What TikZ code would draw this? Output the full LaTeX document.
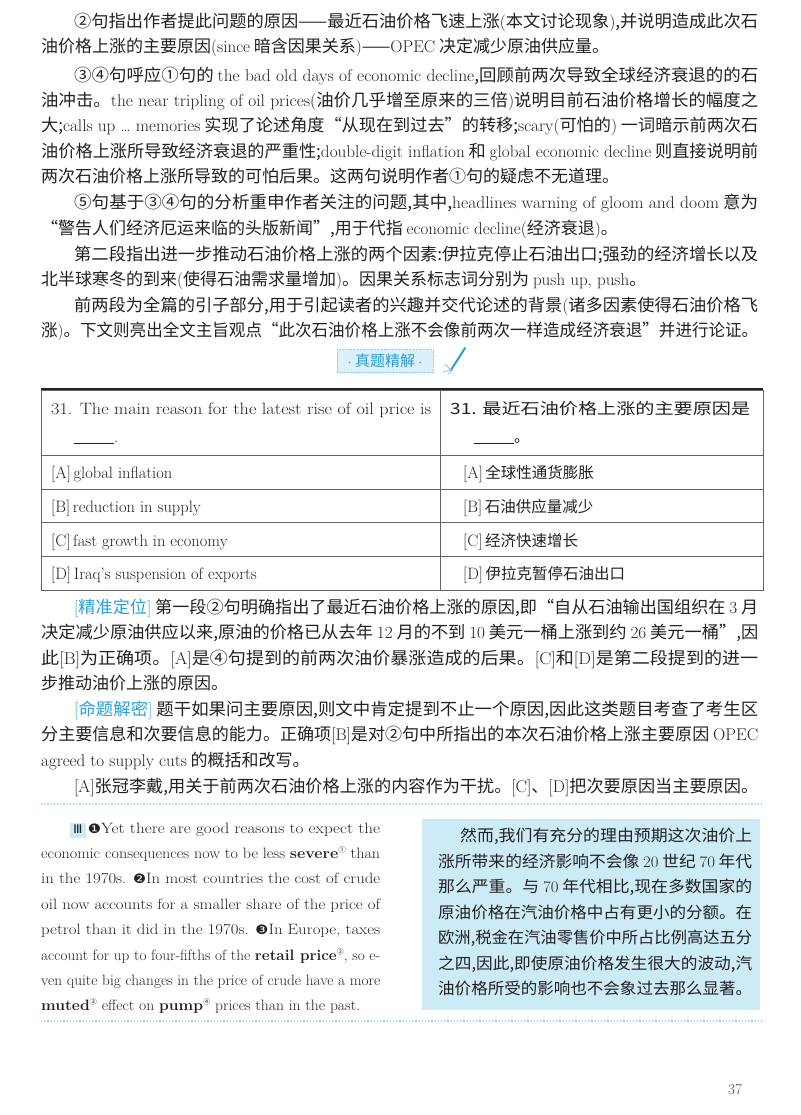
\documentclass[tikz,border=0pt]{standalone}
\usepackage{fontspec}
\usepackage{graphicx}
\newfontfamily\zh{Noto Sans CJK SC}
\newfontfamily\dv{DejaVu Sans}
\definecolor{ink}{HTML}{222222}
\definecolor{lblue}{HTML}{2A9FD8}
\definecolor{boxbg}{HTML}{CDEAF7}
\definecolor{dotc}{HTML}{8FD0EE}
\newcommand\e[1]{{\normalfont #1}}
\newcommand\fl[2]{\resizebox{#1}{\height}{\strut #2}}
\newcommand\sm[1]{\raisebox{0.9ex}{\zh\fontsize{7}{8}\selectfont #1}}
\newcommand\lab[1]{\textcolor{lblue}{\e{[}#1\e{]}}}
\begin{document}
\begin{tikzpicture}[x=1pt,y=-1pt,
  ln/.style={anchor=base west,inner sep=0pt,text=ink,font=\zh\fontsize{17}{20}\selectfont},
  en/.style={anchor=base west,inner sep=0pt,text=ink,font=\rmfamily\fontsize{15}{18}\selectfont},
  tb/.style={anchor=base west,inner sep=0pt,text=ink,font=\rmfamily\fontsize{16.5}{19}\selectfont},
  tz/.style={anchor=base west,inner sep=0pt,text=ink,font=\zh\fontsize{15.5}{18}\selectfont},
  bx/.style={anchor=base west,inner sep=0pt,text=ink,font=\zh\fontsize{16}{19}\selectfont}]
\useasboundingbox (0,0) rectangle (800,1115);
\fill[white] (0,0) rectangle (800,1115);
% paragraph block 1
\node[ln] (l1) at (74,28) {\fl{684pt}{②句指出作者提此问题的原因——最近石油价格飞速上涨\e{(}本文讨论现象\e{)},并说明造成此次石}};
\node[ln] (l2) at (41,53) {油价格上涨的主要原因\e{(since} 暗含因果关系\e{)}——\e{OPEC} 决定减少原油供应量。};
\node[ln] (l3) at (74,82) {\fl{684pt}{③④句呼应①句的 \e{the bad old days of economic decline},回顾前两次导致全球经济衰退的的石}};
\node[ln] (l4) at (41,107) {\fl{717pt}{油冲击。\e{the near tripling of oil prices(}油价几乎增至原来的三倍\e{)}说明目前石油价格增长的幅度之}};
\node[ln] (l5) at (41,132) {\fl{717pt}{大;\e{calls up \dots\ memories} 实现了论述角度“从现在到过去”的转移;\e{scary(}可怕的\e{)} 一词暗示前两次石}};
\node[ln] (l6) at (41,158) {\fl{717pt}{油价格上涨所导致经济衰退的严重性;\e{double-digit inflation} 和 \e{global economic decline} 则直接说明前}};
\node[ln] (l7) at (41,183) {两次石油价格上涨所导致的可怕后果。这两句说明作者①句的疑虑不无道理。};
\node[ln] (l8) at (74,209) {\fl{684pt}{⑤句基于③④句的分析重申作者关注的问题,其中,\e{headlines warning of gloom and doom} 意为}};
\node[ln] (l9) at (41,234) {“警告人们经济厄运来临的头版新闻”,用于代指 \e{economic decline(}经济衰退\e{)}。};
\node[ln] (l10) at (74,260) {\fl{684pt}{第二段指出进一步推动石油价格上涨的两个因素:伊拉克停止石油出口;强劲的经济增长以及}};
\node[ln] (l11) at (41,285) {北半球寒冬的到来\e{(}使得石油需求量增加\e{)}。因果关系标志词分别为 \e{push up, push}。};
\node[ln] (l12) at (74,311) {\fl{684pt}{前两段为全篇的引子部分,用于引起读者的兴趣并交代论述的背景\e{(}诸多因素使得石油价格飞}};
\node[ln] (l13) at (41,336) {\fl{717pt}{涨\e{)}。下文则亮出全文主旨观点“此次石油价格上涨不会像前两次一样造成经济衰退”并进行论证。}};
% badge
\node[draw=dotc,densely dotted,fill=boxbg!70,minimum width=96pt,minimum height=23pt,inner sep=0pt,
  text=lblue,font=\zh\fontsize{15}{18}\selectfont] (badge) at (385,361) {$\cdot$ 真题精解 $\cdot$};
\draw[lblue,line width=2pt,line cap=round] (451,370) -- (465,348);
\draw[lblue!60,line width=0.8pt] (445,364) -- (451,370) -- (443,372) (448,374) -- (452,371);
% table
\draw[ink!70,line width=0.8pt] (41,390) rectangle (763,590);
\draw[ink,line width=2pt] (41,389) -- (763,389);
\draw[ink!70,line width=0.8pt] (440,390) -- (440,590);
\foreach \yy in {455,489,522,556} \draw[ink!70,line width=0.6pt] (41,\yy) -- (763,\yy);
\node[tb] (q1) at (51,414) {\fl{380pt}{31. The main reason for the latest rise of oil price is}};
\node[tb] (q2) at (74,442) {\rule[-1pt]{40pt}{0.5pt}.};
\node[tz] (z1) at (450,414) {\fl{300pt}{31. 最近石油价格上涨的主要原因是}};
\node[tz] (z2) at (474,442) {\rule[-1pt]{40pt}{0.5pt}。};
\node[tb] (a1) at (51,478) {[A]\,global inflation};
\node[tb] (a2) at (51,512) {[B]\,reduction in supply};
\node[tb] (a3) at (51,546) {[C]\,fast growth in economy};
\node[tb] (a4) at (51,579) {[D]\,Iraq’s suspension of exports};
\node[tz] (b1) at (463,478) {\e{\fontsize{16.5}{19}\selectfont[A]}\,全球性通货膨胀};
\node[tz] (b2) at (463,512) {\e{\fontsize{16.5}{19}\selectfont[B]}\,石油供应量减少};
\node[tz] (b3) at (463,546) {\e{\fontsize{16.5}{19}\selectfont[C]}\,经济快速增长};
\node[tz] (b4) at (463,579) {\e{\fontsize{16.5}{19}\selectfont[D]}\,伊拉克暂停石油出口};
% analysis
\node[ln] (m1) at (74,613) {\fl{684pt}{\lab{精准定位} 第一段②句明确指出了最近石油价格上涨的原因,即“自从石油输出国组织在 \e{3} 月}};
\node[ln] (m2) at (41,638) {\fl{717pt}{决定减少原油供应以来,原油的价格已从去年 \e{12} 月的不到 \e{10} 美元一桶上涨到约 \e{26} 美元一桶”,因}};
\node[ln] (m3) at (41,664) {\fl{717pt}{此\e{[B]}为正确项。\e{[A]}是④句提到的前两次油价暴涨造成的后果。\e{[C]}和\e{[D]}是第二段提到的进一}};
\node[ln] (m4) at (41,689) {步推动油价上涨的原因。};
\node[ln] (m5) at (74,715) {\fl{684pt}{\lab{命题解密} 题干如果问主要原因,则文中肯定提到不止一个原因,因此这类题目考查了考生区}};
\node[ln] (m6) at (41,740) {\fl{717pt}{分主要信息和次要信息的能力。正确项\e{[B]}是对②句中所指出的本次石油价格上涨主要原因 \e{OPEC}}};
\node[ln] (m7) at (41,766) {\e{agreed to supply cuts} 的概括和改写。};
\node[ln] (m8) at (74,792) {\fl{684pt}{\e{[A]}张冠李戴,用关于前两次石油价格上涨的内容作为干扰。\e{[C]}、\e{[D]}把次要原因当主要原因。}};
\draw[dotc,line width=1.2pt,dotted] (41,804) -- (763,804);
% english passage
\fill[boxbg] (70,823) rectangle (86,838);
\node[en] (e1) at (73,833) {\fl{307pt}{{\dv\fontsize{12}{15}\selectfont Ⅲ}\ {\dv\fontsize{13}{15}\selectfont ❶}Yet there are good reasons to expect the}};
\node[en] (e2) at (41,858) {\fl{339pt}{economic consequences now to be less \textbf{severe}\sm{①} than}};
\node[en] (e3) at (41,883) {\fl{339pt}{in the 1970s. {\dv\fontsize{13}{15}\selectfont ❷}In most countries the cost of crude}};
\node[en] (e4) at (41,909) {\fl{339pt}{oil now accounts for a smaller share of the price of}};
\node[en] (e5) at (41,934) {\fl{339pt}{petrol than it did in the 1970s. {\dv\fontsize{13}{15}\selectfont ❸}In Europe, taxes}};
\node[en] (e6) at (41,960) {\fl{339pt}{account for up to four-fifths of the \textbf{retail price}\sm{②}, so e-}};
\node[en] (e7) at (41,985) {\fl{339pt}{ven quite big changes in the price of crude have a more}};
\node[en] (e8) at (41,1010) {\fl{319pt}{\textbf{muted}\sm{③} effect on \textbf{pump}\sm{④} prices than in the past.}};
% chinese box
\fill[boxbg] (422,819) rectangle (760,1010);
\node[bx] (c1) at (460,841) {\fl{292pt}{然而,我们有充分的理由预期这次油价上}};
\node[bx] (c2) at (438,867) {\fl{314pt}{涨所带来的经济影响不会像 \e{20} 世纪 \e{70} 年代}};
\node[bx] (c3) at (438,892) {\fl{314pt}{那么严重。与 \e{70} 年代相比,现在多数国家的}};
\node[bx] (c4) at (438,918) {\fl{314pt}{原油价格在汽油价格中占有更小的分额。在}};
\node[bx] (c5) at (438,943) {\fl{314pt}{欧洲,税金在汽油零售价中所占比例高达五分}};
\node[bx] (c6) at (438,969) {\fl{314pt}{之四,因此,即使原油价格发生很大的波动,汽}};
\node[bx] (c7) at (438,994) {\fl{314pt}{油价格所受的影响也不会象过去那么显著。}};
\draw[dotc,line width=1.2pt,dotted] (41,1021) -- (763,1021);
\node[anchor=base west,inner sep=0pt,text=ink!80,font=\rmfamily\fontsize{15}{18}\selectfont] (pg) at (728,1094) {37};
\end{tikzpicture}
\end{document}
